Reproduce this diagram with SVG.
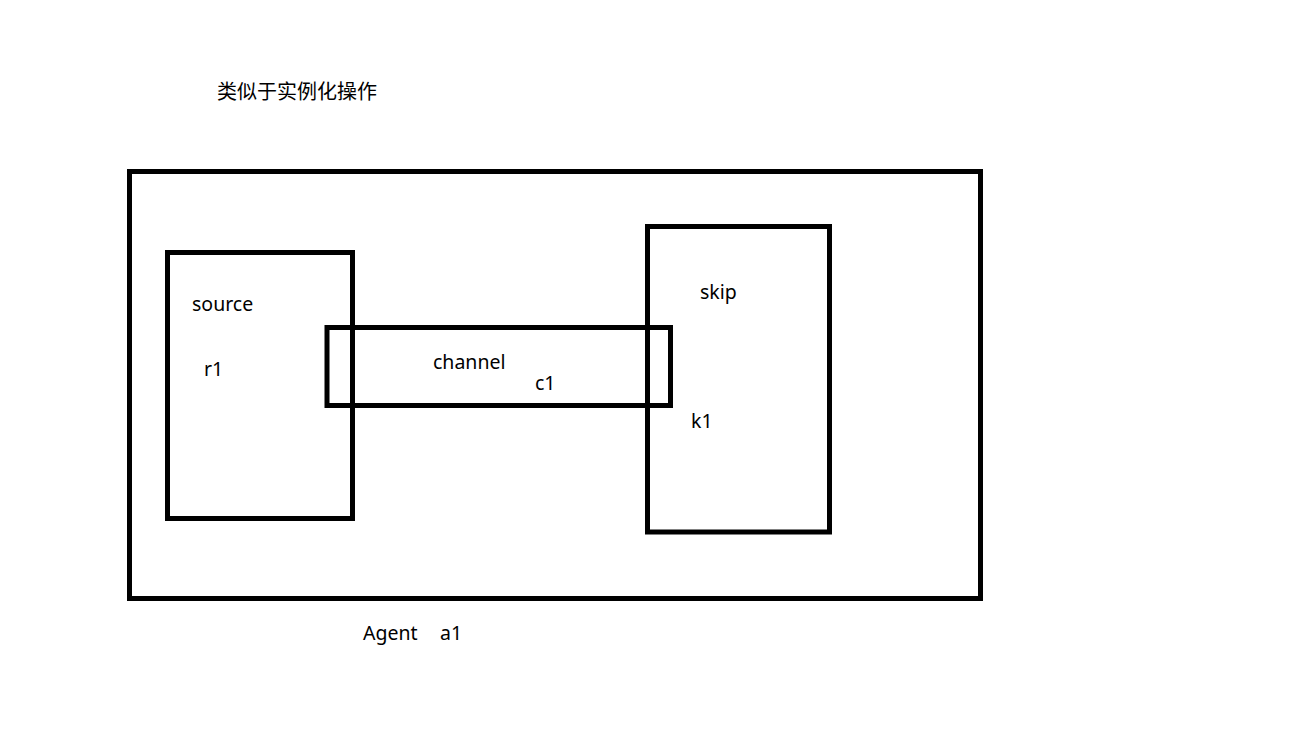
<svg xmlns="http://www.w3.org/2000/svg" width="1314" height="754" viewBox="0 0 1314 754">
<style>
.box{fill:none;stroke:#000;stroke-width:5}
.t{font-family:"Noto Sans","Noto Sans CJK SC",sans-serif;font-size:19.5px;fill:#000}
.cjk{font-family:"Noto Sans CJK SC",sans-serif;font-size:20px;fill:#000}
</style>
<rect width="1314" height="754" fill="#fff"/>
<text class="cjk" x="217" y="99">类似于实例化操作</text>
<g id="agent">
<rect class="box" x="129.5" y="171.5" width="851" height="427"/>
<text class="t" x="363" y="640">Agent</text>
<text class="t" x="440" y="640">a1</text>
</g>
<g id="source">
<rect class="box" x="167.5" y="252.5" width="185" height="266"/>
<text class="t" x="192" y="311">source</text>
<text class="t" x="204" y="376">r1</text>
</g>
<g id="skip">
<rect class="box" x="647.5" y="226.5" width="182" height="305.5"/>
<text class="t" x="700" y="299">skip</text>
<text class="t" x="691" y="428">k1</text>
</g>
<g id="channel">
<rect class="box" x="327" y="327.5" width="343.5" height="78"/>
<text class="t" x="433" y="369">channel</text>
<text class="t" x="535" y="390">c1</text>
</g>
<g id="connectors"></g>
</svg>
